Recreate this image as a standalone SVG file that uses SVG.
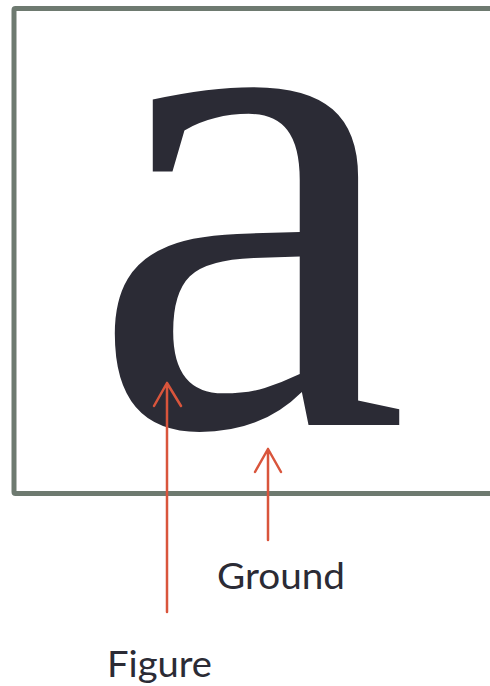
<svg xmlns="http://www.w3.org/2000/svg" width="490" height="686" viewBox="0 0 490 686">
<defs>
<style>
.frame{fill:none;stroke:#6e7a70;stroke-width:5}
.glyph{font-family:"Liberation Serif","DejaVu Serif",serif;fill:#2b2b35}
.label{font-family:Lato,"Open Sans","Liberation Sans",sans-serif;font-size:37px;fill:#2b2b35}
.arrow{fill:none;stroke:#d9553c;stroke-width:2.5;stroke-linecap:round;stroke-linejoin:round}
</style>
</defs>
<rect width="490" height="686" fill="#ffffff"/>
<g id="frame"><rect class="frame" x="14" y="8.5" width="490" height="485" rx="1.5"/></g>
<g id="letter"><text class="glyph" x="89.5" y="425" font-size="720">a</text></g>
<g id="connectors">
<path class="arrow" d="M167 612 V383 M154 406 L167 383 L181 406"/>
<path class="arrow" d="M268 540 V449 M255 472 L268 449 L281 472"/>
</g>
<g id="ground"><text class="label" x="217" y="589" textLength="128" lengthAdjust="spacingAndGlyphs">Ground</text></g>
<g id="figure"><text class="label" x="107" y="677" textLength="105" lengthAdjust="spacingAndGlyphs">Figure</text></g>
</svg>
